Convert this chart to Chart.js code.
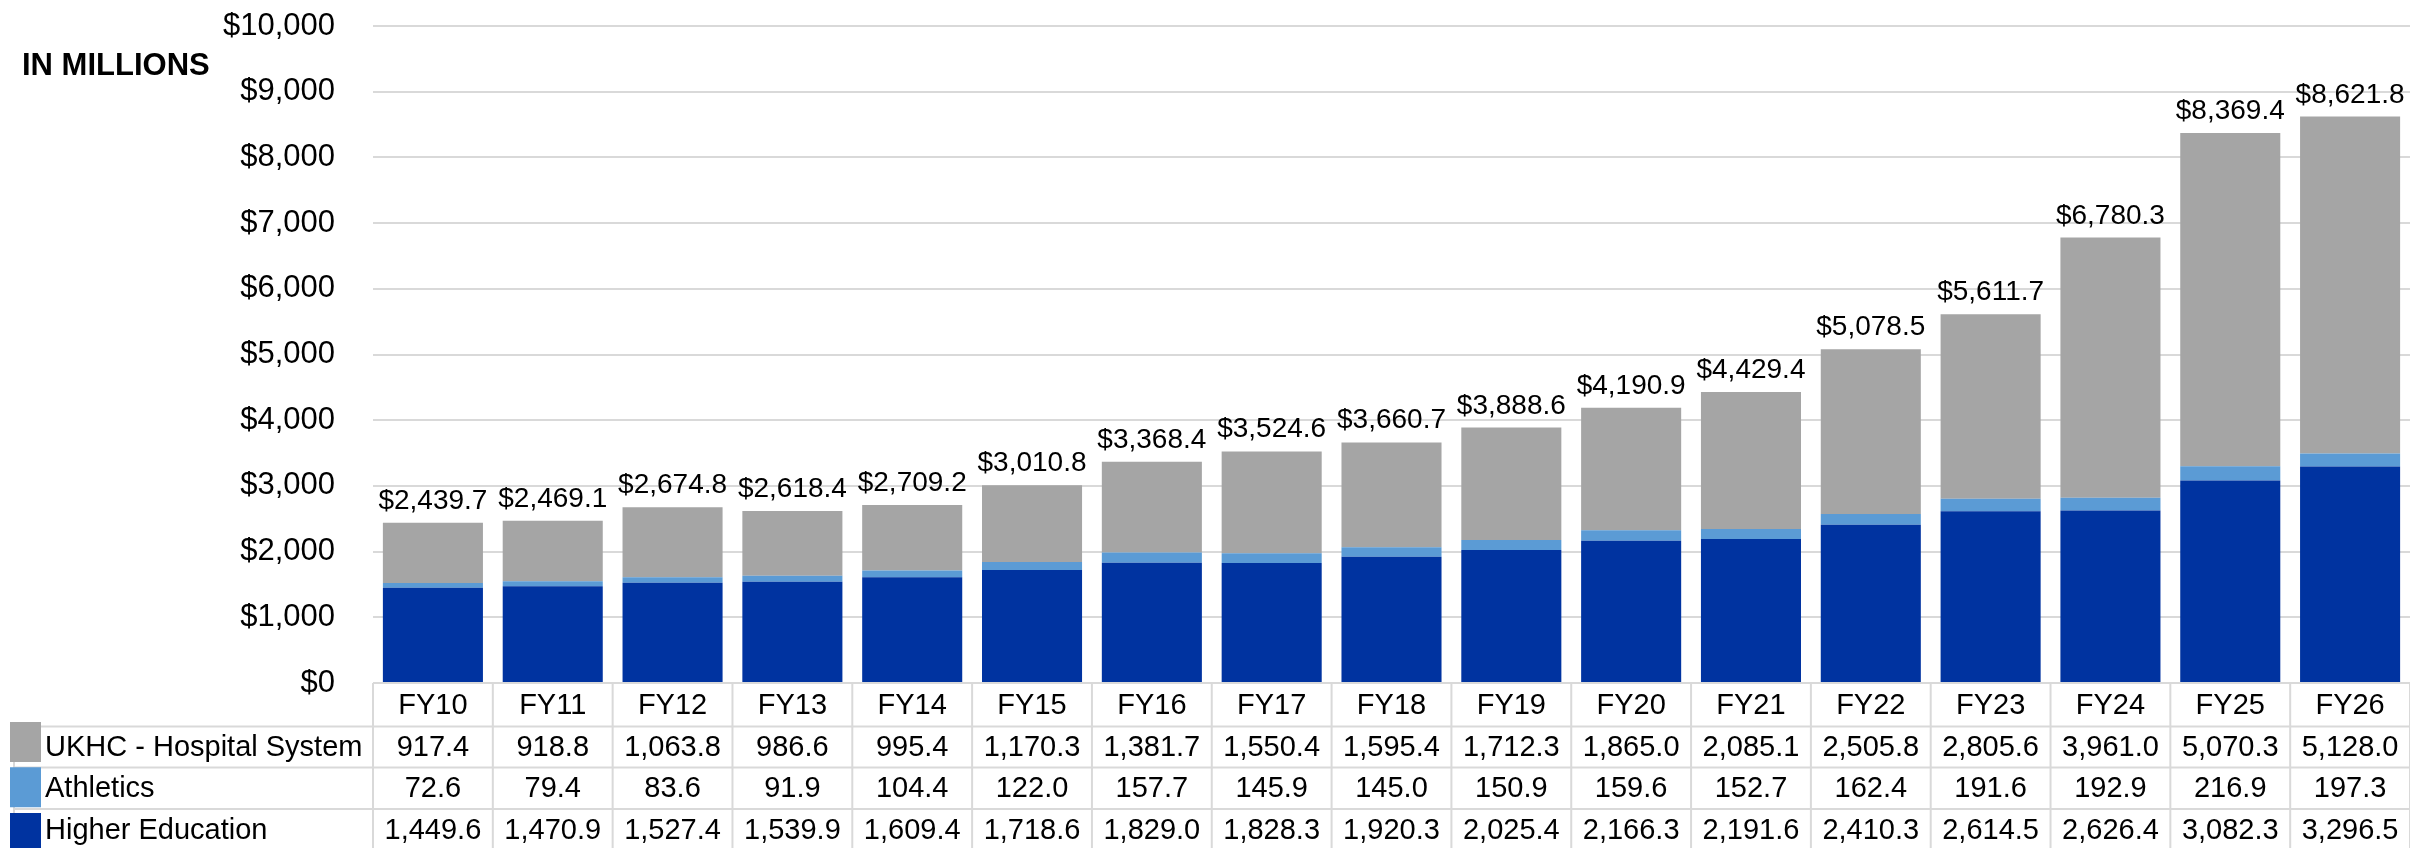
<!DOCTYPE html>
<html>
<head>
<meta charset="utf-8">
<script src="https://cdn.jsdelivr.net/npm/chart.js@4.4.1/dist/chart.umd.min.js"></script>
<style>
html, body { margin: 0; padding: 0; background: #fff; }
#chart { display: block; }
</style>
</head>
<body>
<canvas id="chart" width="2410" height="848"></canvas>
<script>
// values in millions
var years = ["FY10","FY11","FY12","FY13","FY14","FY15","FY16","FY17","FY18","FY19","FY20","FY21","FY22","FY23","FY24","FY25","FY26"];
var hospital = [917.4, 918.8, 1063.8, 986.6, 995.4, 1170.3, 1381.7, 1550.4, 1595.4, 1712.3, 1865.0, 2085.1, 2505.8, 2805.6, 3961.0, 5070.3, 5128.0];
var athletics = [72.6, 79.4, 83.6, 91.9, 104.4, 122.0, 157.7, 145.9, 145.0, 150.9, 159.6, 152.7, 162.4, 191.6, 192.9, 216.9, 197.3];
var higherEd = [1449.6, 1470.9, 1527.4, 1539.9, 1609.4, 1718.6, 1829.0, 1828.3, 1920.3, 2025.4, 2166.3, 2191.6, 2410.3, 2614.5, 2626.4, 3082.3, 3296.5];
var totals = [2439.7, 2469.1, 2674.8, 2618.4, 2709.2, 3010.8, 3368.4, 3524.6, 3660.7, 3888.6, 4190.9, 4429.4, 5078.5, 5611.7, 6780.3, 8369.4, 8621.8];
var yMin = 0, yMax = 10000, yStep = 1000;
var unitLabel = "IN MILLIONS";

var FONT = "'Liberation Sans', Arial, sans-serif";
var GRID = "#d9d9d9";
var colors = { hospital: "#a5a5a5", athletics: "#5b9bd5", higherEd: "#0033a0" };

// table rows, top to bottom like the legend
var rows = [
    { name: "UKHC - Hospital System", color: colors.hospital, values: hospital },
    { name: "Athletics", color: colors.athletics, values: athletics },
    { name: "Higher Education", color: colors.higherEd, values: higherEd }
];

function fmt(v){
    return v.toLocaleString("en-US", { minimumFractionDigits: 1, maximumFractionDigits: 1 });
}

var tablePlugin = {
    id: "dataTable",
    afterDatasetsDraw: function(chart){
        let ctx = chart.ctx;
        let xs = chart.scales.x;
        let ys = chart.scales.y;
        ctx.save();
        ctx.fillStyle = "#000";
        ctx.font = "28px " + FONT;
        ctx.textAlign = "center";
        ctx.textBaseline = "alphabetic";
        totals.forEach(function(t, i){
            ctx.fillText("$" + fmt(t), xs.getPixelForValue(i), ys.getPixelForValue(t) - 14);
        });
        ctx.restore();
    },
    afterDraw: function(chart){
        let ctx = chart.ctx;
        let xs = chart.scales.x;
        let area = chart.chartArea;
        let half = (xs.getPixelForValue(1) - xs.getPixelForValue(0)) / 2;
        let top = area.bottom;
        let lines = [top, top + 43.5, top + 84.5, top + 126, top + 168];
        let leftEdge = 14;

        ctx.save();
        ctx.strokeStyle = GRID;
        ctx.lineWidth = 2;
        ctx.beginPath();
        ctx.moveTo(area.left, lines[0]);
        ctx.lineTo(chart.width, lines[0]);
        for (let r = 1; r < 4; r++) {
            ctx.moveTo(leftEdge, lines[r]);
            ctx.lineTo(chart.width, lines[r]);
        }
        ctx.moveTo(leftEdge, lines[1]);
        ctx.lineTo(leftEdge, lines[4]);
        for (let i = 0; i <= years.length; i++) {
            let x = xs.getPixelForValue(i) - half;
            ctx.moveTo(x, lines[0]);
            ctx.lineTo(x, lines[4]);
        }
        ctx.stroke();

        // header row
        ctx.fillStyle = "#000";
        ctx.font = "29px " + FONT;
        ctx.textAlign = "center";
        ctx.textBaseline = "middle";
        years.forEach(function(y, i){
            ctx.fillText(y, xs.getPixelForValue(i), (lines[0] + lines[1]) / 2 + 1);
        });

        rows.forEach(function(row, r){
            let cy = (lines[r + 1] + lines[r + 2]) / 2 + 1;
            ctx.fillStyle = row.color;
            ctx.fillRect(10, cy - 26 + r * 4, 31, 40);
            ctx.fillStyle = "#000";
            ctx.textAlign = "left";
            ctx.fillText(row.name, 45, cy);
            ctx.textAlign = "center";
            row.values.forEach(function(v, i){
                ctx.fillText(fmt(v), xs.getPixelForValue(i), cy);
            });
        });

        ctx.font = "bold 31px " + FONT;
        ctx.textAlign = "left";
        ctx.textBaseline = "alphabetic";
        ctx.fillText(unitLabel, 22, 75);
        ctx.restore();
    }
};

let ctx = document.getElementById("chart");
let chart = new Chart(ctx, {
    type: "bar",
    data: {
        labels: years,
        datasets: [
            { label: "Higher Education", data: higherEd, backgroundColor: colors.higherEd },
            { label: "Athletics", data: athletics, backgroundColor: colors.athletics },
            { label: "UKHC - Hospital System", data: hospital, backgroundColor: colors.hospital }
        ]
    },
    options: {
        responsive: false,
        animation: false,
        devicePixelRatio: 1,
        layout: { padding: { top: 26, right: 0, bottom: 165, left: 0 } },
        datasets: { bar: { categoryPercentage: 1, barPercentage: 0.835 } },
        plugins: {
            legend: { display: false },
            tooltip: { enabled: false },
            title: { display: false }
        },
        scales: {
            x: { stacked: true, display: false },
            y: {
                stacked: true,
                min: yMin,
                max: yMax,
                afterFit: function(s){
                    s.width = 373;
                    s.paddingTop = 0;
                    s.paddingBottom = 0;
                },
                border: { display: false },
                grid: { color: GRID, lineWidth: 2, drawTicks: false },
                ticks: {
                    stepSize: yStep,
                    padding: 38,
                    color: "#000",
                    font: { family: FONT, size: 31 },
                    callback: function(v){ return "$" + v.toLocaleString("en-US"); }
                }
            }
        }
    },
    plugins: [tablePlugin]
});
</script>
</body>
</html>
